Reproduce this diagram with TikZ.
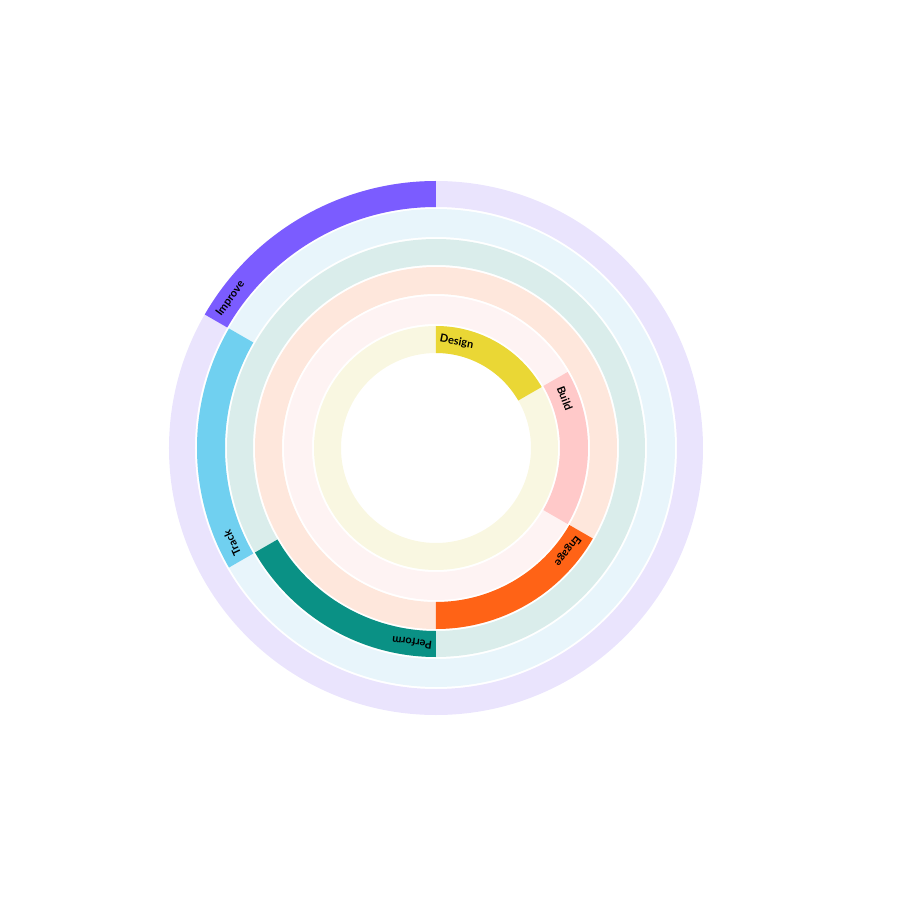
\documentclass[tikz,border=0pt]{standalone}
\usepackage{fontspec}
\setmainfont{Lato}
\definecolor{c1}{HTML}{EAD735}\definecolor{l1}{HTML}{F9F7E1}
\definecolor{c2}{HTML}{FFC9C9}\definecolor{l2}{HTML}{FEF3F3}
\definecolor{c3}{HTML}{FF6316}\definecolor{l3}{HTML}{FEE7DC}
\definecolor{c4}{HTML}{0A9185}\definecolor{l4}{HTML}{DAEDEB}
\definecolor{c5}{HTML}{70D0F0}\definecolor{l5}{HTML}{E8F5FB}
\definecolor{c6}{HTML}{7B5CFF}\definecolor{l6}{HTML}{EAE4FD}
\newcommand{\myring}[3]{\fill[#3,even odd rule] (0,0) circle[radius=#2] (0,0) circle[radius=#1];}
\newcommand{\mysect}[5]{\fill[#5] (#3:#2) arc[start angle=#3,end angle=#4,radius=#2] -- (#4:#1) arc[start angle=#4,end angle=#3,radius=#1] -- cycle;}
\tikzset{lab/.style={font=\fontsize{11}{11}\selectfont\bfseries, text=black, inner sep=0pt}}
\begin{document}
\begin{tikzpicture}[x=1pt,y=1pt]
\useasboundingbox (-436,-452) rectangle (464,448);
\myring{95}{122}{l1}\mysect{95}{122}{90}{30}{c1}
\myring{124}{152}{l2}\mysect{124}{152}{30}{-30}{c2}
\myring{154}{181}{l3}\mysect{154}{181}{-30}{-90}{c3}
\myring{183}{209}{l4}\mysect{183}{209}{-90}{-150}{c4}
\myring{211}{239}{l5}\mysect{211}{239}{210}{150}{c5}
\myring{241}{267}{l6}\mysect{241}{267}{150}{90}{c6}
\node[lab,rotate=-11] (design) at (79:108) {Design};
\node[lab,rotate=-69] (build) at (21:138) {Build};
\node[lab,rotate=-128] (engage) at (-38:167) {Engage};
\node[lab,rotate=-187] (perform) at (-97:196) {Perform};
\node[lab,rotate=115] (track) at (205:225) {Track};
\node[lab,rotate=54] (improve) at (144:254) {Improve};
\end{tikzpicture}
\end{document}
